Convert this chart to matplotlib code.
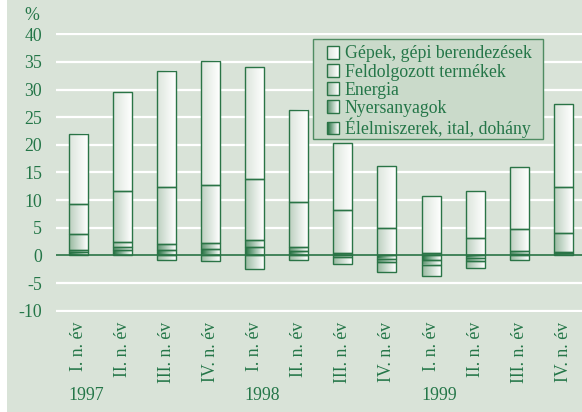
import numpy as np
import matplotlib
matplotlib.use('Agg')
import matplotlib.pyplot as plt
from matplotlib.colors import LinearSegmentedColormap, to_rgb
from matplotlib.patches import Rectangle
from matplotlib.legend_handler import HandlerBase
from matplotlib.transforms import blended_transform_factory

quarters = ['I. n. év', 'II. n. év', 'III. n. év', 'IV. n. év'] * 3
years = ['1997', '1998', '1999']

series_names = ['Élelmiszerek, ital, dohány', 'Nyersanyagok', 'Energia',
                'Feldolgozott termékek', 'Gépek, gépi berendezések']
elelmiszer = [0.6, 1.0, 1.0, 1.1, 1.6, 0.8, 0.4, -0.6, -0.8, -0.5, 0.2, 0.4]
nyersanyag = [0.35, 0.5, 1.0, 1.1, 1.1, 0.7, -0.3, -0.6, -0.9, -0.6, 0.55, 0.2]
energia = [2.85, 0.9, -0.75, -1.1, -2.5, -0.9, -1.3, -1.8, -2.0, -1.1, -0.75, 3.5]
feldolgozott = [5.5, 9.3, 10.3, 10.5, 11.2, 8.1, 7.8, 4.9, 0.5, 3.2, 4.05, 8.3]
gepek = [12.7, 17.9, 21.1, 22.5, 20.1, 16.7, 12.1, 11.2, 10.3, 8.5, 11.1, 15.0]
series = [elelmiszer, nyersanyag, energia, feldolgozott, gepek]

# left edge colour of each gradient (right edge fades to white)
left_colors = ['#1f6e3c', '#5e9470', '#98b9a0', '#bccfbf', '#dce5dc']

bg = '#d9e3d8'
green = '#247648'
edge = '#2a7446'

plt.rcParams['font.family'] = ['Liberation Serif', 'DejaVu Serif']
plt.rcParams['font.size'] = 12.8
plt.rcParams['axes.unicode_minus'] = False


def fade_cmap(c):
    return LinearSegmentedColormap.from_list('f', [to_rgb(c), (1, 1, 1)])


class GradientHandler(HandlerBase):
    def __init__(self, color):
        super().__init__()
        self.color = np.array(to_rgb(color))

    def create_artists(self, legend, orig_handle, xdescent, ydescent,
                       width, height, fontsize, trans):
        n = 12
        arts = []
        for k in range(n):
            t = k / (n - 1)
            c = self.color * (1 - t) + np.ones(3) * t
            arts.append(Rectangle((-xdescent + k * width / n, -ydescent),
                                  width / n + 0.3, height, facecolor=c,
                                  edgecolor='none', transform=trans))
        arts.append(Rectangle((-xdescent, -ydescent), width, height,
                              facecolor='none', edgecolor=edge, lw=1,
                              transform=trans))
        return arts


fig = plt.figure(figsize=(5.82, 4.12), dpi=100)
fig.patch.set_facecolor('white')
fig.patches.append(Rectangle((7 / 582, 0), 1, 1, transform=fig.transFigure,
                             facecolor=bg, edgecolor='none', zorder=-10))

ax = fig.add_axes([56 / 582, 1 - 312.3 / 412, 1 - 56 / 582, 279.7 / 412])
ax.set_facecolor(bg)
for s in ax.spines.values():
    s.set_visible(False)

x = np.arange(len(quarters))
width = 0.43
pos = np.zeros(len(x))
neg = np.zeros(len(x))
for vals, col in zip(series, left_colors):
    cmap = fade_cmap(col)
    grad = np.linspace(0, 1, 64).reshape(1, -1)
    for i, v in enumerate(vals):
        if v >= 0:
            b, t = pos[i], pos[i] + v
            pos[i] = t
        else:
            b, t = neg[i] + v, neg[i]
            neg[i] = b
        ax.imshow(grad, cmap=cmap, extent=(i - width / 2, i + width / 2, b, t),
                  aspect='auto', interpolation='bilinear', zorder=2)
        ax.bar(i, t - b, bottom=b, width=width, fill=False,
               edgecolor=edge, linewidth=1, zorder=3)

for g in range(-10, 45, 5):
    if g != 0:
        ax.axhline(g, color='white', lw=1.6, zorder=1)
ax.axhline(0, color=edge, lw=1.2, zorder=4)

ax.set_xlim(-0.5, 11.42)
ax.set_ylim(-10.3, 40.3)
ax.set_yticks(range(-10, 45, 5))
ax.tick_params(axis='y', length=0, pad=10, colors=green)
ax.set_xticks(x)
ax.set_xticklabels(quarters, rotation=90, va='top')
ax.tick_params(axis='x', length=0, pad=7, colors=green)

fig.text(24 / 582, 1 - 15 / 412, '%', ha='left', va='center', color=green)

trans = blended_transform_factory(ax.transData, fig.transFigure)
for k, yr in enumerate(years):
    ax.text(4 * k - 0.22, 1 - 395 / 412, yr, transform=trans, ha='left',
            va='center', color=green)

# legend box drawn separately so its padding can be set on each side
box = Rectangle((313 / 582, 1 - 139 / 412), 230 / 582, 100 / 412,
                transform=fig.transFigure, facecolor='#cadaca',
                edgecolor='#4f8c62', lw=1, zorder=9, clip_on=False)
ax.add_patch(box)

proxies = [Rectangle((0, 0), 1, 1) for _ in series_names]
order = list(range(len(series_names)))[::-1]
leg = ax.legend([proxies[i] for i in order], [series_names[i] for i in order],
                handler_map={proxies[i]: GradientHandler(left_colors[i]) for i in order},
                loc='upper left', bbox_to_anchor=(327 / 582, 1 - 45.5 / 412),
                bbox_transform=fig.transFigure, borderaxespad=0,
                frameon=False, handlelength=0.7, handleheight=0.7,
                handletextpad=0.3, labelspacing=0.06, borderpad=0)
for t in leg.get_texts():
    t.set_color(green)
leg.set_zorder(10)

fig.savefig('out.png', dpi=100, facecolor=fig.get_facecolor())
